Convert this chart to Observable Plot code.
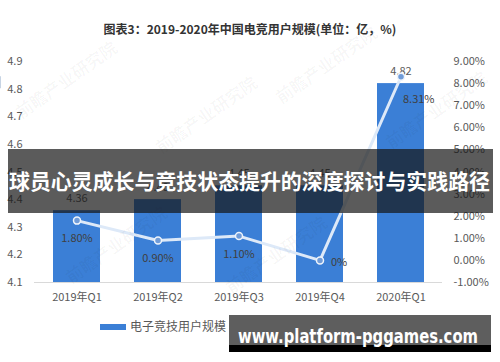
<!DOCTYPE html>
<html>
<head>
<meta charset="utf-8">
<script src="https://cdn.jsdelivr.net/npm/d3@7"></script>
<script src="https://cdn.jsdelivr.net/npm/@observablehq/plot@0.6"></script>
<style>
  html, body { margin: 0; padding: 0; background: #fff; }
  #wrap { position: relative; width: 500px; height: 362px; overflow: hidden; }
  #wrap > svg, #wrap > figure { position: absolute; left: 0; top: 0; margin: 0; }
</style>
</head>
<body>
<div id="wrap"></div>
<script>
// ---- data ----
const categories = ["2019年Q1", "2019年Q2", "2019年Q3", "2019年Q4", "2020年Q1"];
const users = [4.36, 4.40, 4.45, 4.45, 4.82];          // 电子竞技用户规模（亿）
const userLabels = ["4.36", "4.40", "4.45", "4.45", "4.82"];
const growth = [1.80, 0.90, 1.10, 0, 8.31];             // 环比增速（%）
const growthLabels = ["1.80%", "0.90%", "1.10%", "0%", "8.31%"];
const leftTicks = [4.1, 4.2, 4.3, 4.4, 4.5, 4.6, 4.7, 4.8, 4.9];
const rightTicks = [-1, 0, 1, 2, 3, 4, 5, 6, 7, 8, 9];
const title = "图表3：2019-2020年中国电竞用户规模(单位：亿，%)";
const legendBar = "电子竞技用户规模（%）";
const legendLine = "环比增速（%）";
const bannerText = "球员心灵成长与竞技状态提升的深度探讨与实践路径";
const siteText = "www.platform-pggames.com";

// map right-axis percentages onto the left axis scale
const yMin = 4.1, yMax = 4.9, pMin = -1, pMax = 9;
const toY = p => yMin + (p - pMin) / (pMax - pMin) * (yMax - yMin);
const fromY = y => pMin + (y - yMin) / (yMax - yMin) * (pMax - pMin);

const rows = categories.map((c, i) => ({
  cat: c, v: users[i], vl: userLabels[i], g: growth[i], gy: toY(growth[i]), gl: growthLabels[i], i
}));

const BLUE = "#3b7fd6";
const LINE = "#dde9f8";
const FONT = "'Noto Sans CJK SC', 'Noto Sans', sans-serif";

const leader = (index, scales) => {
  const r = rows[4];
  const x = scales.x(r.cat) + scales.x.bandwidth / 2;
  const y = scales.y(r.gy);
  const line = document.createElementNS("http://www.w3.org/2000/svg", "line");
  line.setAttribute("x1", x); line.setAttribute("y1", y);
  line.setAttribute("x2", x + 19); line.setAttribute("y2", y + 12);
  line.setAttribute("stroke", "#8fa9c9"); line.setAttribute("stroke-width", 1);
  return line;
};

const chart = Plot.plot({
  width: 500,
  height: 362,
  marginTop: 61,
  marginBottom: 80,
  marginLeft: 34,
  marginRight: 58,
  style: { fontFamily: FONT, fontSize: "11px", color: "#595959", background: "transparent", overflow: "visible" },
  x: { domain: categories, paddingInner: 0.42, paddingOuter: 0.21, axis: null, label: null },
  y: { domain: [yMin, yMax], axis: null, label: null },
  marks: [
    Plot.axisX({ tickSize: 0, tickPadding: 11, fontSize: 11, fill: "#595959", label: null }),
    Plot.axisY({ anchor: "left", ticks: leftTicks, tickSize: 0, tickPadding: 12, tickFormat: d => d.toFixed(1), fill: "#595959", label: null }),
    Plot.axisY({ anchor: "right", ticks: rightTicks.map(toY), tickSize: 0, tickPadding: 11, tickFormat: d => fromY(d).toFixed(2) + "%", fill: "#595959", label: null }),
    Plot.barY(rows, { x: "cat", y1: () => yMin, y2: "v", fill: BLUE }),
    Plot.ruleY([yMin], { stroke: "#d9d9d9", strokeWidth: 1 }),
    Plot.text(rows, { x: "cat", y: "v", text: "vl", dy: -12, fill: "#595959", fontSize: 11 }),
    Plot.line(rows, { x: "cat", y: "gy", stroke: LINE, strokeWidth: 3 }),
    Plot.dot(rows, { x: "cat", y: "gy", r: 3.5, fill: "#6f9bd8", stroke: "#eef4fb", strokeWidth: 1.5 }),
    Plot.text(rows.filter(d => d.i < 3), { x: "cat", y: "gy", text: "gl", dy: 18, fill: "#404040", fontSize: 11 }),
    Plot.text(rows.filter(d => d.i === 3), { x: "cat", y: "gy", text: "gl", dx: 11, dy: 2, textAnchor: "start", fill: "#404040", fontSize: 11 }),
    leader,
    Plot.text(rows.filter(d => d.i === 4), { x: "cat", y: "gy", text: "gl", dx: 2, dy: 23, textAnchor: "start", fill: "#404040", fontSize: 11 })
  ]
});

const wrap = document.getElementById("wrap");
wrap.appendChild(chart);

// ---- overlay: title, legend, banner, site watermark ----
const ov = d3.select(wrap).append("svg")
  .attr("width", 500).attr("height", 362)
  .style("position", "absolute").style("left", 0).style("top", 0)
  .style("font-family", FONT);

// faint institutional watermarks
[[70, 85], [210, 120], [330, 70], [440, 115], [120, 250], [280, 260]].forEach(([x, y]) => {
  ov.append("text").attr("x", x).attr("y", y).attr("text-anchor", "middle")
    .attr("transform", `rotate(-35 ${x} ${y})`)
    .attr("fill", "#000").attr("fill-opacity", 0.035)
    .attr("font-size", 17).attr("font-weight", "bold").text("前瞻产业研究院");
});

ov.append("text").attr("x", 250).attr("y", 34).attr("text-anchor", "middle")
  .attr("font-size", 12).attr("font-weight", "bold").attr("fill", "#333").text(title);

// legend
ov.append("rect").attr("x", 100).attr("y", 324).attr("width", 26).attr("height", 6).attr("fill", BLUE);
ov.append("text").attr("x", 130).attr("y", 331).attr("font-size", 12).attr("fill", "#595959").text(legendBar);
ov.append("line").attr("x1", 286).attr("x2", 310).attr("y1", 327).attr("y2", 327).attr("stroke", LINE).attr("stroke-width", 3);
ov.append("circle").attr("cx", 298).attr("cy", 327).attr("r", 3).attr("fill", "#6f9bd8").attr("stroke", "#eef4fb");
ov.append("text").attr("x", 315).attr("y", 331).attr("font-size", 12).attr("fill", "#595959").text(legendLine);

// banner
ov.append("rect").attr("x", 8).attr("y", 149).attr("width", 485).attr("height", 64)
  .attr("fill", "rgb(22,22,22)").attr("fill-opacity", 0.7);
ov.append("text").attr("x", 9).attr("y", 189).attr("font-size", 21).attr("font-weight", "bold")
  .attr("fill", "#fff").attr("textLength", 481).attr("lengthAdjust", "spacingAndGlyphs").text(bannerText);

// site label
ov.append("rect").attr("x", 229).attr("y", 315).attr("width", 262).attr("height", 37).attr("fill", "#000");
ov.append("rect").attr("x", 229).attr("y", 315).attr("width", 262).attr("height", 30).attr("fill", "#5e5e5e");
ov.append("text").attr("x", 238).attr("y", 343).attr("font-size", 19).attr("font-weight", "bold")
  .attr("font-family", "'DejaVu Sans', sans-serif")
  .attr("fill", "#fff").attr("textLength", 240).attr("lengthAdjust", "spacingAndGlyphs").text(siteText);
</script>
</body>
</html>
